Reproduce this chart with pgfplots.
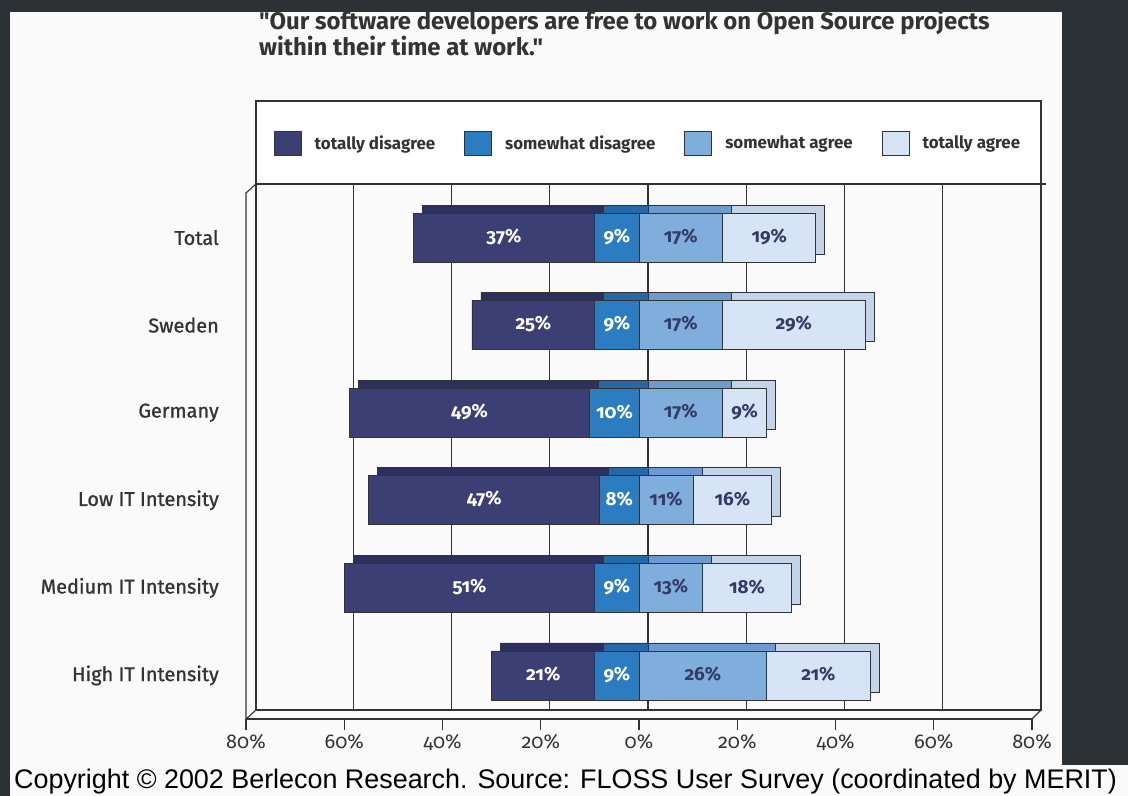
\documentclass[border=0pt]{standalone}
\usepackage{pgfplots}
\pgfplotsset{compat=1.18}
\usepackage{pgfplotstable}
\usepackage{fontspec}
\setmainfont{Fira Sans}[Numbers=OldStyle]
\newfontfamily\tfont{Fira Sans}[Numbers=OldStyle]
\newfontfamily\cfont{Liberation Sans}

\definecolor{bgdark}{HTML}{2C3136}
\definecolor{panel}{HTML}{FAFAFA}
\definecolor{edgec}{HTML}{333333}
\definecolor{txtc}{HTML}{333333}
\definecolor{tdc}{HTML}{3B3F74}
\definecolor{sdc}{HTML}{2B7CC0}
\definecolor{sac}{HTML}{7FAEDD}
\definecolor{tac}{HTML}{D6E4F5}
\definecolor{tdb}{HTML}{2C305E}
\definecolor{sdb}{HTML}{2468A8}
\definecolor{sab}{HTML}{6E9BCF}
\definecolor{tab}{HTML}{C3D3EA}
\definecolor{lblc}{HTML}{353A66}

\def\val{0}

% idx: 5 = Total (top) ... 0 = High IT Intensity (bottom)
% off = 80 - (td + sd): the axis runs from 0 (80% disagree) to 160 (80% agree)
\pgfplotstableread{
idx off td sd sa ta
5 34 37 9 17 19
4 46 25 9 17 29
3 21 49 10 17 9
2 25 47 8 11 16
1 20 51 9 13 18
0 50 21 9 26 21
}\datatable

\pgfplotsset{
  base/.style={scale only axis, width=786bp, height=535bp,
    xmin=0, xmax=160, ymin=-0.497, ymax=5.611,
    anchor=south west, xbar stacked, bar width=49bp},
  lbl/.style={nodes near coords={\pgfmathprintnumber[assume math mode=true]{\val}\%},
    nodes near coords align=center,
    every node near coord/.style={anchor=center, yshift=1bp,
      font=\bfseries\fontsize{19}{19}\selectfont, text=#1}},
}

\begin{document}
\begin{tikzpicture}[x=1bp,y=1bp]
\fill[bgdark] (0,0) rectangle (1128,796);
\fill[panel] (10,31) rectangle (1062,784);
\fill[panel] (10,0) rectangle (1128,31);

\node[anchor=base west, inner sep=0, text=txtc, font=\tfont\bfseries\fontsize{24}{24}\selectfont] at (259,766) {"Our software developers are free to work on Open Source projects};
\node[anchor=base west, inner sep=0, text=txtc, font=\tfont\bfseries\fontsize{24}{24}\selectfont] at (259,740) {within their time at work."};

% back layer: grid and depth faces
\begin{axis}[base, at={(255bp,85bp)},
  axis line style={draw=none}, xtick={20,40,...,140}, xticklabels={},
  ytick=\empty, major tick length=0pt,
  xmajorgrids, major grid style={draw=edgec, line width=1.1bp}]
\addplot[draw=none, fill=none] table[x=off, y=idx] {\datatable};
\addplot[fill=tdb, draw=edgec, line width=0.8bp] table[x=td, y=idx] {\datatable};
\addplot[fill=sdb, draw=edgec, line width=0.8bp] table[x=sd, y=idx] {\datatable};
\addplot[fill=sab, draw=edgec, line width=0.8bp] table[x=sa, y=idx] {\datatable};
\addplot[fill=tab, draw=edgec, line width=0.8bp] table[x=ta, y=idx] {\datatable};
\end{axis}

% walls and legend box
\fill[white] (256,612) rectangle (1041,695);
\draw[edgec, line width=1.1bp] (256,612) rectangle (1041,695);
\draw[edgec, line width=1.1bp] (1041,612) -- (1046,612);
\draw[edgec, line width=1.1bp] (256,612) -- (256,86) -- (1041,86) -- (1041,612);
\draw[edgec, line width=1.1bp] (256,612) -- (246,603) -- (246,77) -- (256,86);
\draw[edgec, line width=1.1bp] (1032,77) -- (1041,86);

% front layer
\begin{axis}[base, at={(246bp,77bp)},
  axis x line*=bottom, axis y line*=left,
  x axis line style={draw=edgec, line width=1.1bp},
  y axis line style={draw=none},
  xtick={0,20,...,160},
  xticklabels={80\%,60\%,40\%,20\%,0\%,20\%,40\%,60\%,80\%},
  tick align=outside, major tick length=11bp,
  xtick style={draw=edgec, line width=1.1bp},
  ytick={0,...,5}, ytick style={draw=none},
  yticklabels={High IT Intensity,Medium IT Intensity,Low IT Intensity,Germany,Sweden,Total},
  xticklabel style={font=\fontsize{20}{20}\selectfont, text=txtc, yshift=-1bp},
  yticklabel style={font=\fontsize{20}{20}\selectfont\addfontfeature{FakeBold=1}, text=txtc, anchor=east, inner sep=0pt, xshift=-16bp},
  legend style={at={(0.5115,1.0766)}, anchor=center, draw=none, fill=none,
    legend columns=4, font=\bfseries\fontsize{17}{17}\selectfont, text=txtc,
    /tikz/every even column/.append style={column sep=27bp},
    /tikz/every odd column/.append style={column sep=11bp}},
  legend image code/.code={\draw[#1, draw=edgec, line width=0.8bp] (0bp,-12bp) rectangle (27bp,12bp);},
]
\addplot[draw=none, fill=none, forget plot] table[x=off, y=idx] {\datatable};
\addplot[fill=tdc, draw=edgec, line width=0.8bp,
  visualization depends on={\thisrow{td} \as \val}, lbl=white] table[x=td, y=idx] {\datatable};
\addlegendentry{totally disagree}
\addplot[fill=sdc, draw=edgec, line width=0.8bp,
  visualization depends on={\thisrow{sd} \as \val}, lbl=white] table[x=sd, y=idx] {\datatable};
\addlegendentry{somewhat disagree}
\addplot[fill=sac, draw=edgec, line width=0.8bp,
  visualization depends on={\thisrow{sa} \as \val}, lbl=lblc] table[x=sa, y=idx] {\datatable};
\addlegendentry{somewhat agree}
\addplot[fill=tac, draw=edgec, line width=0.8bp,
  visualization depends on={\thisrow{ta} \as \val}, lbl=lblc] table[x=ta, y=idx] {\datatable};
\addlegendentry{totally agree}
\end{axis}

\node[anchor=base west, inner sep=0, font=\cfont\fontsize{27}{27}\selectfont] at (14,7) {Copyright \textcopyright{} 2002 Berlecon Research. Source: FLOSS User Survey (coordinated by MERIT)};
\end{tikzpicture}
\end{document}
